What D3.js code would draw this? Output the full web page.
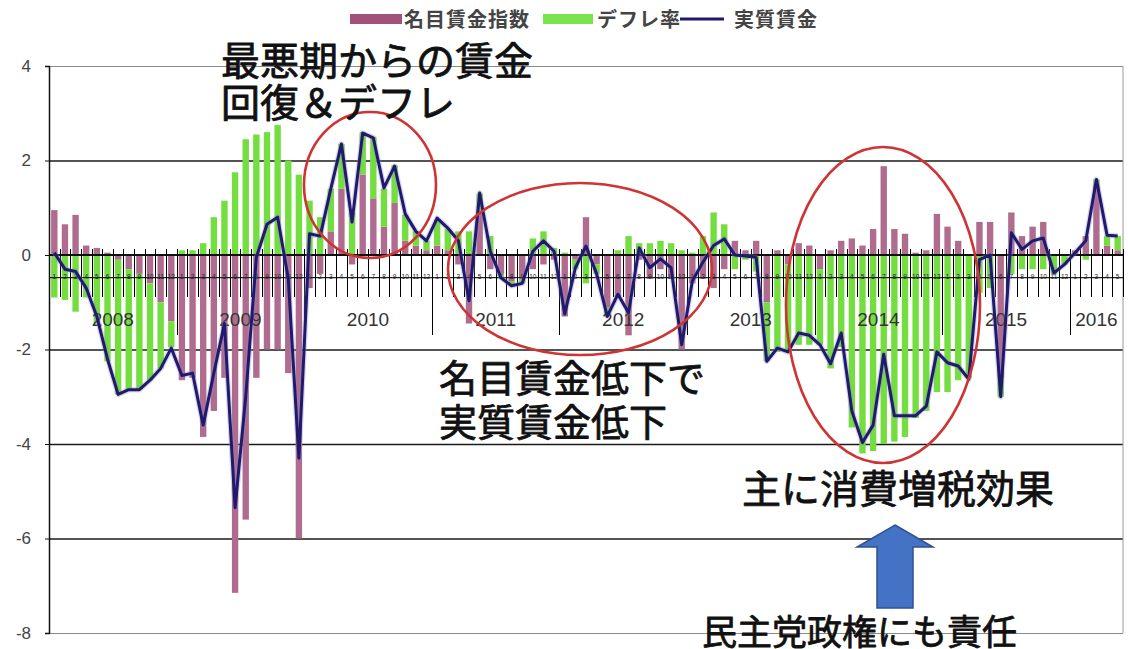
<!DOCTYPE html>
<html><head><meta charset="utf-8">
<script src="https://cdn.jsdelivr.net/npm/d3@7"></script>
<style>
html,body{margin:0;padding:0;background:#fff;}
svg{display:block;}
</style></head><body>
<svg id="chart" width="1128" height="649"></svg>
<script>
// ---- data ----
const years = [2008, 2009, 2010, 2011, 2012, 2013, 2014, 2015, 2016];
const monthLabels = ["1","2","3","4","5","6","7","8","9","10","11","12"];
const seriesNames = ["名目賃金指数", "デフレ率", "実質賃金"];
// 名目賃金指数 (nominal wage, y/y %)
const nominal = [
  0.95, 0.65, 0.85, 0.2, 0.15, 0.05, -0.1, -0.3, -0.4, -0.6, -1.0, -1.4,
  -2.65, -2.6, -3.85, -3.3, -2.6, -7.15, -5.6, -2.6, -2.0, -2.0, -2.5, -6.0,
  -0.7, -0.4, 0.5, 1.4, -0.2, 1.7, 1.2, 0.6, 1.1, 0.3, 0.2, 0.1,
  0.2, 0.1, -0.2, -1.45, 0.9, -0.3, -0.4, -0.55, -0.5, -0.3, -0.2, -0.1,
  -1.3, -0.1, 0.8, -0.2, -1.1, -0.9, -1.7, -0.1, -0.5, -0.3, -0.5, -2.0,
  -0.6, -0.5, -0.7, -0.3, 0.3, 0.1, 0.3, -1.0, 0.1, -0.2, 0.25, 0.2,
  -0.3, 0.1, 0.3, 0.35, 0.2, 0.55, 1.88, 0.55, 0.45, 0.05, 0.1, 0.87,
  0.6, 0.3, 0.0, 0.7, 0.7, -2.6, 0.9, 0.4, 0.6, 0.7, 0.0, 0.0,
  0.1, 0.4, 1.5, 0.2, 0.1
];
// デフレ率 (deflation rate, %)
const deflation = [
  -0.9, -0.95, -1.2, -0.9, -1.45, -2.25, -2.85, -2.55, -2.45, -2.05, -1.4, -0.55,
  0.1, 0.1, 0.25, 0.8, 1.15, 1.75, 2.45, 2.55, 2.6, 2.75, 2.0, 1.7,
  1.15, 0.8, 0.9, 0.95, 0.9, 0.9, 1.3, 0.8, 0.8, 0.55, 0.3, 0.2,
  0.55, 0.45, 0.5, 0.5, 0.4, 0.4, -0.1, -0.1, -0.1, 0.35, 0.5, 0.15,
  0.05, -0.2, -0.6, -0.2, -0.2, 0.1, 0.4, 0.25, 0.25, 0.3, 0.25, 0.1,
  0.05, 0.4, 0.9, 0.65, -0.3, -0.1, -0.35, -1.25, -2.05, -1.85, -1.9, -1.9,
  -1.6, -2.4, -1.95, -3.65, -4.2, -4.15, -4.0, -3.95, -3.85, -3.45, -3.3, -2.9,
  -2.9, -2.65, -2.6, -0.8, -0.7, -0.4, -0.4, -0.3, -0.3, -0.3, -0.4, -0.2,
  0.0, -0.1, 0.1, 0.2, 0.3
];
// 実質賃金 (real wage, y/y %)
const real = [
  0.05, -0.3, -0.35, -0.7, -1.3, -2.2, -2.95, -2.85, -2.85, -2.65, -2.4, -1.97,
  -2.55, -2.5, -3.6, -2.5, -1.45, -5.35, -3.0, -0.05, 0.65, 0.8, -0.5, -4.3,
  0.45, 0.4, 1.4, 2.35, 0.7, 2.58, 2.48, 1.42, 1.88, 0.87, 0.5, 0.3,
  0.78, 0.57, 0.3, -0.97, 1.31, 0.08, -0.48, -0.65, -0.6, 0.08, 0.3, 0.08,
  -1.25, -0.27, 0.19, -0.4, -1.3, -0.83, -1.22, 0.15, -0.27, -0.08, -0.27, -1.9,
  -0.55, -0.15, 0.2, 0.34, 0.0, -0.02, -0.05, -2.25, -1.97, -2.05, -1.65, -1.7,
  -1.9, -2.3, -1.65, -3.3, -3.97, -3.6, -2.1, -3.4, -3.4, -3.4, -3.2, -2.05,
  -2.28, -2.35, -2.63, -0.1, 0.0, -3.0, 0.47, 0.12, 0.3, 0.36, -0.38, -0.2,
  0.05, 0.3, 1.6, 0.42, 0.4
];
const yTicks = [4, 2, 0, -2, -4, -6, -8];
const noteTop = ["最悪期からの賃金", "回復＆デフレ"];
const noteMid = ["名目賃金低下で", "実質賃金低下"];
const noteTax = "主に消費増税効果";
const noteDpj = "民主党政権にも責任";

// ---- setup ----
const plot = {left: 49, right: 1123, top: 66, bottom: 633};
const svg = d3.select("#chart");
const categories = years.flatMap(yr => monthLabels.map(m => yr + "/" + m)).slice(0, nominal.length);
const x = d3.scaleBand().domain(categories).range([plot.left, plot.right]).paddingInner(0.4).paddingOuter(0.2);
const y = d3.scaleLinear().domain([-8, 4]).range([plot.bottom, plot.top]);
const bw = x.bandwidth();
const gap = (x.step() - bw) / 2;
const latin = "'Liberation Sans', Arial, sans-serif";
const cjk = "'Noto Sans CJK JP', 'Noto Sans', sans-serif";

// gridlines (not zero)
svg.append("g").attr("transform", `translate(${plot.left},0)`)
  .call(d3.axisLeft(y).tickValues(yTicks.filter(v => v !== 0)).tickSize(-(plot.right - plot.left)).tickFormat(""))
  .call(g => g.select(".domain").remove())
  .call(g => g.selectAll(".tick line")
    .attr("stroke", d => (d === 4 || d === -8) ? "#8a8a8a" : "#1a1a1a")
    .attr("stroke-width", d => (d === 4 || d === -8) ? 1 : 1.6));
// right border
svg.append("line").attr("x1", plot.right).attr("x2", plot.right).attr("y1", y(4)).attr("y2", y(-8))
  .attr("stroke", "#9a9a9a").attr("stroke-width", 1);

// stacked bars
const rows = categories.map((c, i) => ({cat: c, nominal: nominal[i], deflation: deflation[i]}));
const stacked = d3.stack().keys(["nominal", "deflation"]).offset(d3.stackOffsetDiverging)(rows);
const barColor = {nominal: "#B06C8E", deflation: "#74DD3F"};
svg.append("g").selectAll("g").data(stacked).join("g").attr("fill", s => barColor[s.key])
  .selectAll("rect").data(s => s).join("rect")
  .attr("x", d => x(d.data.cat)).attr("width", bw)
  .attr("y", d => y(Math.max(d[0], d[1])))
  .attr("height", d => Math.abs(y(d[0]) - y(d[1])));

// zero line
svg.append("line").attr("x1", plot.left).attr("x2", plot.right).attr("y1", y(0)).attr("y2", y(0))
  .attr("stroke", "#111").attr("stroke-width", 2);

// category axis (crossing below zero)
const axisY = y(-0.47);
const catAxis = svg.append("g").attr("transform", `translate(0,${axisY})`)
  .call(d3.axisBottom(x).tickSize(0).tickPadding(-3).tickFormat(c => c.split("/")[1]));
catAxis.select(".domain").attr("stroke", "#222").attr("stroke-width", 1.3);
catAxis.selectAll("text").attr("font-family", latin).attr("font-size", 6.5).attr("fill", "#222");

// month tick marks and year separators
const bounds = categories.map(c => x(c) - gap).concat([plot.right]);
svg.append("g").attr("shape-rendering", "crispEdges").selectAll("line").data(bounds).join("line")
  .attr("x1", d => Math.round(d) + 0.5).attr("x2", d => Math.round(d) + 0.5)
  .attr("y1", y(0.12)).attr("y2", (d, i) => (i % 12 === 0 && i > 0 && i < categories.length) ? y(-1.7) : y(-0.88))
  .attr("stroke", "#000").attr("stroke-width", 1.5);

// year labels
svg.append("g").selectAll("text").data(years).join("text")
  .attr("x", yr => {
    const cs = categories.filter(c => c.startsWith(yr + "/"));
    return (x(cs[0]) - gap + x(cs[cs.length - 1]) + bw + gap) / 2;
  })
  .attr("y", y(-1.5))
  .attr("text-anchor", "middle").attr("font-family", latin).attr("font-size", 19)
  .attr("fill", "#333").text(yr => yr);

// y axis
const yAxis = svg.append("g").attr("transform", `translate(${plot.left},0)`)
  .call(d3.axisLeft(y).tickValues(yTicks).tickSize(4).tickPadding(14).tickFormat(d => String(d)));
yAxis.select(".domain").attr("stroke", "#111").attr("stroke-width", 1.5);
yAxis.selectAll(".tick line").attr("stroke", "#111");
yAxis.selectAll("text").attr("font-family", latin).attr("font-size", 17).attr("fill", "#444");

// real wage line
const line = d3.line().x((v, i) => x(categories[i]) + bw / 2).y(v => y(v));
svg.append("path").datum(real).attr("d", line).attr("fill", "none")
  .attr("stroke", "#8f86c8").attr("stroke-width", 5.5).attr("stroke-opacity", 0.35).attr("stroke-linejoin", "round");
svg.append("path").datum(real).attr("d", line).attr("fill", "none")
  .attr("stroke", "#1F1A6B").attr("stroke-width", 3).attr("stroke-linejoin", "round");

// legend
const legend = svg.append("g").attr("font-family", cjk).attr("font-size", 20).attr("font-weight", "bold").attr("fill", "#444");
legend.append("rect").attr("x", 350).attr("y", 14).attr("width", 52).attr("height", 10).attr("fill", "#A0527B");
legend.append("text").attr("x", 404).attr("y", 27).attr("letter-spacing", 1).text(seriesNames[0]);
legend.append("rect").attr("x", 543).attr("y", 14).attr("width", 50).attr("height", 10).attr("fill", "#7BE34E");
legend.append("text").attr("x", 597).attr("y", 27).attr("letter-spacing", 1).text(seriesNames[1]);
legend.append("line").attr("x1", 680).attr("x2", 724).attr("y1", 19).attr("y2", 19).attr("stroke", "#1F1A6B").attr("stroke-width", 3);
legend.append("text").attr("x", 734).attr("y", 27).attr("letter-spacing", 1).text(seriesNames[2]);

// red ellipses
const ell = svg.append("g").attr("fill", "none").attr("stroke", "#CF3434").attr("stroke-width", 2.6);
ell.append("ellipse").attr("cx", 370).attr("cy", 185).attr("rx", 66).attr("ry", 73);
ell.append("ellipse").attr("cx", 580).attr("cy", 269).attr("rx", 132).attr("ry", 86);
ell.append("ellipse").attr("cx", 883).attr("cy", 305).attr("rx", 97).attr("ry", 158);

// blue arrow
svg.append("path").attr("d", "M895,525 L933,547 L913,547 L913,608 L877,608 L877,547 L857,547 Z")
  .attr("fill", "#4472C4").attr("stroke", "#2F528F").attr("stroke-width", 1.5);

// annotations (slight stroke to thicken the regular weight)
const notesG = svg.append("g").attr("font-family", cjk).attr("fill", "#111")
  .attr("stroke", "#111").attr("stroke-width", 0.8).attr("stroke-linejoin", "round");
notesG.append("text").attr("x", 221).attr("y", 75).attr("font-size", 39).text(noteTop[0]);
notesG.append("text").attr("x", 221).attr("y", 117).attr("font-size", 39).text(noteTop[1]);
notesG.append("text").attr("x", 439).attr("y", 392).attr("font-size", 38).text(noteMid[0]);
notesG.append("text").attr("x", 439).attr("y", 436).attr("font-size", 38).text(noteMid[1]);
notesG.append("text").attr("x", 742).attr("y", 503).attr("font-size", 39).text(noteTax);
notesG.append("text").attr("x", 702).attr("y", 645).attr("font-size", 35).text(noteDpj);
</script>
</body></html>
